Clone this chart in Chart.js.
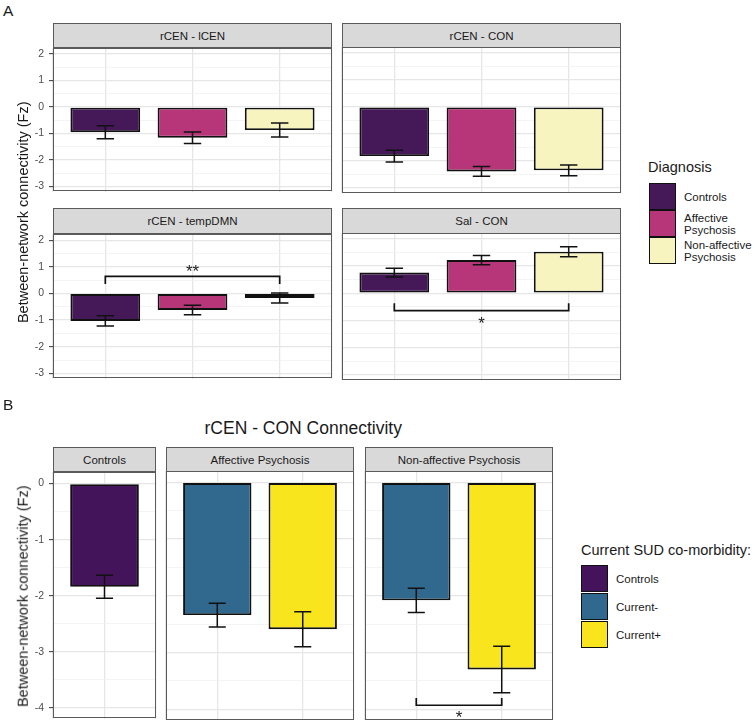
<!DOCTYPE html>
<html>
<head>
<meta charset="utf-8">
<script src="https://cdn.jsdelivr.net/npm/chart.js@4.4.0/dist/chart.umd.min.js"></script>
<style>
  body { margin: 0; background: #fff; font-family: "Liberation Sans", Arial, Helvetica, sans-serif; }
  #wrap { position: relative; width: 755px; height: 724px; overflow: hidden; }
  #wrap canvas { position: absolute; }
  .txt { position: absolute; white-space: nowrap; line-height: 1; color: #1a1a1a; }
  .strip { position: absolute; box-sizing: border-box; background: #d9d9d9; border: 1px solid #5a5a5a;
           color: #1a1a1a; font-size: 11.5px; display: flex; align-items: center; justify-content: center; }
  .ytitle { position: absolute; width: 320px; text-align: center; font-size: 14.5px; line-height: 1;
            color: #1a1a1a; transform: rotate(-90deg); }
  .key { position: absolute; box-sizing: border-box; border: 1.6px solid #111; }
  .klab { position: absolute; font-size: 11.5px; line-height: 12px; color: #1a1a1a; }
  .star { position: absolute; width: 60px; text-align: center; font-size: 17px; line-height: 1; color: #1a1a1a; }
</style>
</head>
<body>
<div id="wrap"></div>
<script>
// ---- data: panel A (by diagnosis) ----
const diagnosis = ["Controls", "Affective Psychosis", "Non-affective Psychosis"];
const facetNamesA = ["rCEN - lCEN", "rCEN - CON", "rCEN - tempDMN", "Sal - CON"];
const meanLcen = [-0.95, -1.16, -0.87];
const seLcen = [0.245, 0.215, 0.265];
const meanCon = [-1.83, -2.40, -2.36];
const seCon = [0.215, 0.18, 0.20];
const meanDmn = [-1.03, -0.62, -0.17];
const seDmn = [0.195, 0.18, 0.19];
const meanSal = [0.76, 1.22, 1.53];
const seSal = [0.16, 0.17, 0.185];
const ticksA = [-3, -2, -1, 0, 1, 2];
const sigDmn = { from: 0, to: 2, tip: 0.35, bar: 0.64, text: 0.96, label: "**" };
const sigSal = { from: 0, to: 2, tip: -0.37, bar: -0.64, text: -0.99, label: "*" };

// ---- data: panel B (rCEN - CON by SUD) ----
const sudGroups = ["Controls", "Current-", "Current+"];
const facetNamesB = ["Controls", "Affective Psychosis", "Non-affective Psychosis"];
const meanBCtrl = [-1.84];
const seBCtrl = [0.205];
const meanBAff = [-2.34, -2.59];
const seBAff = [0.21, 0.31];
const meanBNon = [-2.08, -3.30];
const seBNon = [0.215, 0.41];
const ticksB = [-4, -3, -2, -1, 0];
const sigNon = { from: 0, to: 1, tip: -3.80, bar: -3.93, text: -4.08, label: "*" };

// colours
const colA = ["#451957", "#b63679", "#f8f4c0"];
const colB = ["#44145a", "#31688e", "#f8e51e"];

Chart.defaults.font.family = "'Liberation Sans', Arial, Helvetica, sans-serif";
const wrap = document.getElementById("wrap");
const PAD = 10, AXW = 26;

function addText(cls, text, css) {
  const d = document.createElement("div");
  d.className = cls;
  d.innerHTML = text;
  Object.assign(d.style, css);
  wrap.appendChild(d);
  return d;
}

// grid values: major ticks plus half-way minor lines inside the range
function gridValues(major, min, max) {
  const vals = [];
  major.forEach(v => {
    if (v - 0.5 > min) vals.push(v - 0.5);
    vals.push(v);
  });
  const last = major[major.length - 1];
  if (last + 0.5 < max) vals.push(last + 0.5);
  return vals;
}

function decoPlugin(means, errs, sig, left, top) {
  let star = null;
  return {
    id: "deco",
    afterDatasetsDraw(chart) {
      const { ctx, scales: { x, y } } = chart;
      ctx.save();
      ctx.strokeStyle = "#111";
      ctx.lineWidth = 1.5;
      means.forEach((m, i) => {
        const px = x.getPixelForValue(i);
        const half = x.getPixelForValue(i + 0.1) - px;
        const hi = y.getPixelForValue(m + errs[i]);
        const lo = y.getPixelForValue(m - errs[i]);
        ctx.beginPath();
        ctx.moveTo(px - half, hi); ctx.lineTo(px + half, hi);
        ctx.moveTo(px, hi); ctx.lineTo(px, lo);
        ctx.moveTo(px - half, lo); ctx.lineTo(px + half, lo);
        ctx.stroke();
      });
      if (sig) {
        const x0 = x.getPixelForValue(sig.from), x1 = x.getPixelForValue(sig.to);
        const yb = y.getPixelForValue(sig.bar), yt = y.getPixelForValue(sig.tip);
        ctx.lineWidth = 1.7;
        ctx.beginPath();
        ctx.moveTo(x0, yt); ctx.lineTo(x0, yb); ctx.lineTo(x1, yb); ctx.lineTo(x1, yt);
        ctx.stroke();
        if (!star) star = addText("star", sig.label, {});
        star.style.left = (left + (x0 + x1) / 2 - 30) + "px";
        star.style.top = (top + y.getPixelForValue(sig.text) - 0.27 * 17) + "px";
      }
      ctx.restore();
    },
    afterDraw(chart) {
      const { ctx, chartArea: a } = chart;
      ctx.save();
      ctx.strokeStyle = "#5a5a5a";
      ctx.lineWidth = 1;
      ctx.strokeRect(Math.round(a.left) + 0.5, Math.round(a.top) + 0.5,
        Math.round(a.right - a.left) - 1, Math.round(a.bottom - a.top) - 1);
      ctx.restore();
    }
  };
}

function facet(f) {
  const n = f.means.length;
  const leftSpace = f.showY ? AXW : PAD;
  const cv = document.createElement("canvas");
  cv.width = f.w + leftSpace + PAD;
  cv.height = f.h + 2 * PAD;
  const left = f.x - leftSpace, top = f.y - PAD;
  cv.style.left = left + "px";
  cv.style.top = top + "px";
  wrap.appendChild(cv);

  // strip
  addText("strip", f.name, {
    left: f.x + "px", top: f.stripTop + "px",
    width: f.w + "px", height: (f.y - f.stripTop + 1) + "px"
  });

  const yVals = gridValues(f.ticks, f.min, f.max);
  const xVals = [-0.6];
  for (let i = 0; i < n; i++) xVals.push(i);
  xVals.push(n - 0.4);

  return new Chart(cv, {
    type: "bar",
    data: {
      labels: f.labels,
      datasets: [{
        data: f.means.map((v, i) => ({ x: i, y: v })),
        backgroundColor: f.colors,
        borderColor: "#111",
        borderWidth: 1.9,
        borderSkipped: false,
        categoryPercentage: 1,
        barPercentage: 0.8 / 0.6
      }]
    },
    options: {
      responsive: false,
      animation: false,
      events: [],
      layout: { padding: { left: f.showY ? 0 : PAD, right: PAD, top: PAD, bottom: PAD } },
      plugins: { legend: { display: false }, tooltip: { enabled: false } },
      scales: {
        x: {
          type: "linear",
          offset: false,
          min: -0.6,
          max: n - 0.4,
          afterBuildTicks: s => { s.ticks = xVals.map(v => ({ value: v })); },
          afterFit: s => { s.height = 0; },
          ticks: { display: false },
          grid: { offset: false, drawTicks: false, color: "#e6e6e6", lineWidth: 1.3 },
          border: { display: false }
        },
        y: {
          min: f.min,
          max: f.max,
          afterBuildTicks: s => { s.ticks = yVals.map(v => ({ value: v })); },
          afterFit: s => { s.width = f.showY ? AXW : 0; },
          ticks: {
            display: f.showY,
            autoSkip: false,
            padding: 5,
            color: "#4d4d4d",
            font: { size: 10.5 },
            callback: v => (Number.isInteger(v) ? String(v) : "")
          },
          grid: {
            drawTicks: f.showY,
            tickLength: 4,
            tickWidth: 1,
            tickColor: c => (Number.isInteger(c.tick.value) ? "#333" : "rgba(0,0,0,0)"),
            color: c => (Number.isInteger(c.tick.value) ? "#e6e6e6" : "#efefef"),
            lineWidth: c => (Number.isInteger(c.tick.value) ? 1.3 : 0.7)
          },
          border: { display: false }
        }
      }
    },
    plugins: [decoPlugin(f.means, f.errs, f.sig, left, top)]
  });
}

// ---- panel A ----
addText("txt", "A", { left: "3px", top: "3px", fontSize: "15.5px" });
const minA = -3.2, maxA = 2.22;
facet({ name: facetNamesA[0], labels: diagnosis, means: meanLcen, errs: seLcen, colors: colA,
  x: 53, y: 47, w: 279, h: 146, stripTop: 23, min: minA, max: maxA, ticks: ticksA, showY: true });
facet({ name: facetNamesA[1], labels: diagnosis, means: meanCon, errs: seCon, colors: colA,
  x: 342, y: 47, w: 279, h: 146, stripTop: 23, min: minA, max: maxA, ticks: ticksA, showY: false });
facet({ name: facetNamesA[2], labels: diagnosis, means: meanDmn, errs: seDmn, colors: colA, sig: sigDmn,
  x: 53, y: 233, w: 279, h: 147, stripTop: 208, min: minA, max: maxA, ticks: ticksA, showY: true });
facet({ name: facetNamesA[3], labels: diagnosis, means: meanSal, errs: seSal, colors: colA, sig: sigSal,
  x: 342, y: 233, w: 279, h: 147, stripTop: 208, min: minA, max: maxA, ticks: ticksA, showY: false });

addText("ytitle", "Between-network connectivity (Fz)", { left: (23 - 160) + "px", top: (212 - 7) + "px" });

// legend A
addText("txt", "Diagnosis", { left: "648px", top: "160px", fontSize: "14.5px" });
const keyTopsA = [183, 210, 237];
const keyLabA = ["Controls", "Affective<br>Psychosis", "Non-affective<br>Psychosis"];
keyTopsA.forEach((t, i) => {
  addText("key", "", { left: "649px", top: t + "px", width: "27px", height: "27px", background: colA[i] });
  const lab = addText("klab", keyLabA[i], { left: "684px" });
  lab.style.top = (t + 13.5 - lab.offsetHeight / 2) + "px";
});

// ---- panel B ----
addText("txt", "B", { left: "3px", top: "397px", fontSize: "15.5px" });
const tB = addText("txt", "rCEN - CON Connectivity", { top: "420px", fontSize: "17.5px" });
tB.style.left = (303 - tB.offsetWidth / 2) + "px";

const minB = -4.19, maxB = 0.2;
facet({ name: facetNamesB[0], labels: [sudGroups[0]], means: meanBCtrl, errs: seBCtrl, colors: [colB[0]],
  x: 53, y: 471, w: 103, h: 249, stripTop: 447, min: minB, max: maxB, ticks: ticksB, showY: true });
facet({ name: facetNamesB[1], labels: sudGroups.slice(1), means: meanBAff, errs: seBAff, colors: colB.slice(1),
  x: 166, y: 471, w: 188, h: 249, stripTop: 447, min: minB, max: maxB, ticks: ticksB, showY: false });
facet({ name: facetNamesB[2], labels: sudGroups.slice(1), means: meanBNon, errs: seBNon, colors: colB.slice(1), sig: sigNon,
  x: 365, y: 471, w: 188, h: 249, stripTop: 447, min: minB, max: maxB, ticks: ticksB, showY: false });

addText("ytitle", "Between-network connectivity (Fz)", { left: (23 - 160) + "px", top: (596 - 7) + "px" });

// legend B
addText("txt", "Current SUD co-morbidity:", { left: "581px", top: "543px", fontSize: "14.5px" });
const keyTopsB = [565, 593, 621];
keyTopsB.forEach((t, i) => {
  addText("key", "", { left: "581px", top: t + "px", width: "27px", height: "27px", background: colB[i] });
  const lab = addText("klab", sudGroups[i], { left: "616px" });
  lab.style.top = (t + 13.5 - lab.offsetHeight / 2) + "px";
});
</script>
</body>
</html>
